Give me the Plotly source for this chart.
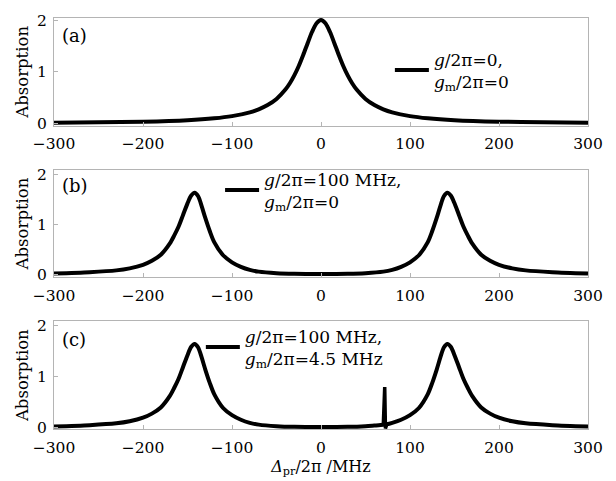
import plotly.graph_objects as go

# ---------------- data ----------------
detuning_ticks = [-300, -200, -100, 0, 100, 200, 300]
absorption_ticks = [0, 1, 2]

# (a) g/2pi = 0, gm/2pi = 0 : single peak
xa = [-300, -250, -200, -150, -120, -100, -80, -70, -60, -50, -40, -35, -30, -25, -20, -15, -10, -5, 0,
      5, 10, 15, 20, 25, 30, 35, 40, 50, 60, 70, 80, 100, 120, 150, 200, 250, 300]
ya = [0.017, 0.025, 0.038, 0.067, 0.103, 0.145, 0.218, 0.276, 0.358, 0.477, 0.658, 0.78, 0.931, 1.113, 1.325, 1.554, 1.774, 1.938, 2.0,
      1.938, 1.774, 1.554, 1.325, 1.113, 0.931, 0.78, 0.658, 0.477, 0.358, 0.276, 0.218, 0.145, 0.103, 0.067, 0.038, 0.025, 0.017]

# (b) g/2pi = 100 MHz, gm/2pi = 0 : split peaks
xb = [-300, -260, -230, -215, -200, -190, -180, -170, -165, -160, -155, -150, -146, -142, -138, -134, -130, -125, -120,
      -110, -100, -90, -80, -70, -50, -30, 0,
      30, 50, 70, 80, 90, 100, 110, 120, 125, 130, 134, 138, 142, 146, 150, 155, 160, 165, 170,
      180, 190, 200, 215, 230, 260, 300]
yb = [0.03, 0.055, 0.09, 0.13, 0.20, 0.28, 0.40, 0.62, 0.78, 0.96, 1.19, 1.42, 1.57, 1.63, 1.56, 1.36, 1.13, 0.87, 0.65,
      0.39, 0.25, 0.16, 0.10, 0.065, 0.035, 0.022, 0.018,
      0.022, 0.035, 0.065, 0.10, 0.16, 0.25, 0.39, 0.65, 0.87, 1.13, 1.36, 1.56, 1.63, 1.57, 1.42, 1.19, 0.96, 0.78, 0.62,
      0.40, 0.28, 0.20, 0.13, 0.09, 0.055, 0.03]

# (c) g/2pi = 100 MHz, gm/2pi = 4.5 MHz : split peaks + narrow feature
xc = [-300, -260, -230, -215, -200, -190, -180, -170, -165, -160, -155, -150, -146, -142, -138, -134, -130, -125, -120,
      -110, -100, -90, -80, -70, -50, -30, 0,
      30, 50, 60, 70, 74, 80, 90, 100, 110, 120, 125, 130, 134, 138, 142, 146, 150, 155, 160, 165, 170,
      180, 190, 200, 215, 230, 260, 300]
yc = [0.03, 0.055, 0.09, 0.13, 0.20, 0.28, 0.40, 0.62, 0.78, 0.96, 1.19, 1.42, 1.58, 1.64, 1.57, 1.37, 1.14, 0.88, 0.66,
      0.39, 0.25, 0.16, 0.10, 0.065, 0.035, 0.022, 0.018,
      0.022, 0.035, 0.048, 0.062, 0.072, 0.10, 0.16, 0.25, 0.39, 0.66, 0.88, 1.14, 1.37, 1.57, 1.64, 1.58, 1.42, 1.19, 0.96, 0.78, 0.62,
      0.40, 0.28, 0.20, 0.13, 0.09, 0.055, 0.03]
spike_x = [70.0, 71.6, 72.4, 74.0]
spike_y = [0.062, 0.80, -0.01, 0.072]

labels = ["(a)", "(b)", "(c)"]
legend_texts = [
    "<i>g</i>/2π=0,<br><i>g</i><sub>m</sub>/2π=0",
    "<i>g</i>/2π=100 MHz,<br><i>g</i><sub>m</sub>/2π=0",
    "<i>g</i>/2π=100 MHz,<br><i>g</i><sub>m</sub>/2π=4.5 MHz",
]

# ---------------- figure ----------------
FONT = '"DejaVu Serif", serif'
LINE = dict(color="black", width=4, shape="spline", smoothing=0.8)

fig = go.Figure()
fig.add_trace(go.Scatter(x=xa, y=ya, mode="lines", line=LINE, name=legend_texts[0],
                         xaxis="x", yaxis="y", legend="legend"))
fig.add_trace(go.Scatter(x=xb, y=yb, mode="lines", line=LINE, name=legend_texts[1],
                         xaxis="x2", yaxis="y2", legend="legend2"))
fig.add_trace(go.Scatter(x=xc, y=yc, mode="lines", line=LINE, name=legend_texts[2],
                         xaxis="x3", yaxis="y3", legend="legend3", legendgroup="c"))
fig.add_trace(go.Scatter(x=spike_x, y=spike_y, mode="lines", line=dict(color="black", width=3.5),
                         xaxis="x3", yaxis="y3", showlegend=False, legendgroup="c", legend="legend3"))

domains = [[0.738, 1.0], [0.370, 0.630], [0.0, 0.262]]
yranges = [[-0.04, 2.04], [-0.04, 2.08], [-0.02, 2.08]]
label_y = [0.84, 0.86, 0.83]

axis_common = dict(showline=True, linecolor="#b4b4b4", linewidth=1, mirror=True,
                   showgrid=False, zeroline=False, ticks="inside", ticklen=4,
                   tickcolor="#b4b4b4", tickfont=dict(family=FONT, size=15.5, color="black"))

layout = dict(width=616, height=481, margin=dict(l=54, r=28, t=13, b=52),
              paper_bgcolor="white", plot_bgcolor="white", showlegend=True,
              font=dict(family=FONT, color="black"))
for i in range(3):
    s = "" if i == 0 else str(i + 1)
    layout["xaxis" + s] = dict(axis_common, domain=[0, 1], anchor="y" + s, range=[-300, 300],
                               tickvals=detuning_ticks, ticklabelstandoff=4)
    layout["yaxis" + s] = dict(axis_common, domain=domains[i], anchor="x" + s, range=yranges[i],
                               tickvals=absorption_ticks, ticklabelstandoff=3,
                               title=dict(text="Absorption", font=dict(family=FONT, size=16.5), standoff=4))
layout["xaxis3"]["title"] = dict(text="<i>Δ</i><sub>pr</sub>/2π /MHz", font=dict(family=FONT, size=16), standoff=0)

leg_common = dict(bgcolor="rgba(0,0,0,0)", borderwidth=0, xanchor="left", yanchor="top",
                  font=dict(family=FONT, size=17, color="black"), valign="middle", itemwidth=34)
layout["legend"] = dict(leg_common, x=0.629, y=0.943)
layout["legend2"] = dict(leg_common, x=0.311, y=0.651)
layout["legend3"] = dict(leg_common, x=0.275, y=0.269)

fig.update_layout(**layout)

for i in range(3):
    s = "" if i == 0 else str(i + 1)
    fig.add_annotation(text=labels[i], xref=("x" + s) + " domain", yref=("y" + s) + " domain",
                       x=0.012, y=label_y[i], xanchor="left", yanchor="middle", showarrow=False,
                       font=dict(family=FONT, size=18, color="black"))

# remove the browser's default 8px body margin so the figure sits at the window origin
fig.write_html("out.html", config={"displayModeBar": False},
               post_script="document.body.style.margin='0';")
